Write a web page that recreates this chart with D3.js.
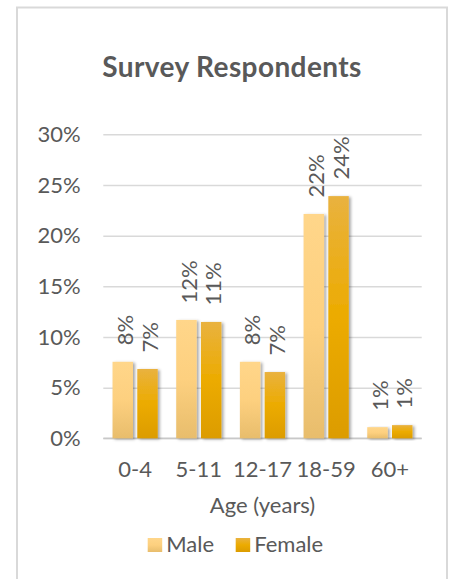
<!DOCTYPE html>
<html>
<head>
<meta charset="utf-8">
<script src="https://cdn.jsdelivr.net/npm/d3@7"></script>
<style>
  html, body { margin: 0; padding: 0; background: #fff; }
  svg text { font-family: Lato, "Open Sans", sans-serif; fill: #595959; }
</style>
</head>
<body>
<svg id="chart" width="453" height="579"></svg>
<script>
// Share of survey respondents by age group and sex
const categories = ["0-4", "5-11", "12-17", "18-59", "60+"];
const seriesNames = ["Male", "Female"];
const maleValues = [0.0755, 0.1168, 0.0755, 0.2214, 0.011];
const femaleValues = [0.0684, 0.1148, 0.0654, 0.239, 0.013];
const yTicks = [0, 0.05, 0.10, 0.15, 0.20, 0.25, 0.30];

const rows = categories.map((c, i) => ({
  category: c,
  values: [
    { series: "Male", value: maleValues[i] },
    { series: "Female", value: femaleValues[i] }
  ]
}));

const svg = d3.select("#chart");
const plot = { left: 103.3, right: 421.7, top: 134.3, bottom: 438.3 };
const fontSize = 22;

// Outer chart frame
svg.append("rect")
  .attr("x", 17).attr("y", 7.5)
  .attr("width", 430).attr("height", 600)
  .attr("fill", "#fff")
  .attr("stroke", "#d9d9d9").attr("stroke-width", 2);

// Gradients and bar shadow
const defs = svg.append("defs");
const gradStops = {
  Male: [["0%", "#ffd68a"], ["50%", "#fdd07f"], ["100%", "#e8bd6c"]],
  Female: [["0%", "#e9b23f"], ["50%", "#ecab00"], ["100%", "#dc9c00"]]
};
seriesNames.forEach(name => {
  const g = defs.append("linearGradient")
    .attr("id", "grad-" + name)
    .attr("x1", 0).attr("y1", 0).attr("x2", 0).attr("y2", 1);
  gradStops[name].forEach(([o, c]) => g.append("stop").attr("offset", o).attr("stop-color", c));
});
const shadow = defs.append("filter").attr("id", "shadow")
  .attr("x", "-30%").attr("y", "-10%").attr("width", "170%").attr("height", "130%");
shadow.append("feDropShadow")
  .attr("dx", 2).attr("dy", 1).attr("stdDeviation", 1.6)
  .attr("flood-color", "#000").attr("flood-opacity", 0.35);

// Scales
const x0 = d3.scaleBand()
  .domain(categories)
  .range([plot.left, plot.right])
  .paddingInner(0.29)
  .paddingOuter(0.145);
const x1 = d3.scaleBand()
  .domain(seriesNames)
  .range([0, x0.bandwidth()])
  .paddingInner(0.173);
const y = d3.scaleLinear()
  .domain([0, 0.30])
  .range([plot.bottom, plot.top]);
const color = d3.scaleOrdinal().domain(seriesNames).range(seriesNames.map(n => "url(#grad-" + n + ")"));

// Title
svg.append("text")
  .attr("x", 232).attr("y", 77)
  .attr("text-anchor", "middle")
  .style("font-size", "28px").style("font-weight", "bold")
  .style("letter-spacing", "0.4px")
  .text("Survey Respondents");

// Y axis with gridlines
const yAxis = svg.append("g")
  .attr("transform", `translate(${plot.left},0)`)
  .call(d3.axisLeft(y)
    .tickValues(yTicks)
    .tickFormat(d3.format(".0%"))
    .tickSizeInner(-(plot.right - plot.left))
    .tickSizeOuter(0)
    .tickPadding(22.6));
yAxis.select(".domain").remove();
yAxis.selectAll(".tick line").attr("stroke", "#d9d9d9").attr("stroke-width", 1.5);
yAxis.selectAll(".tick text").style("font-size", fontSize + "px").attr("fill", "#595959");

// Baseline
svg.append("line")
  .attr("x1", plot.left).attr("x2", plot.right)
  .attr("y1", y(0)).attr("y2", y(0))
  .attr("stroke", "#c8c8c8").attr("stroke-width", 1.5);

// Bars
const groups = svg.append("g").selectAll("g")
  .data(rows).join("g")
  .attr("transform", d => `translate(${x0(d.category)},0)`);

groups.selectAll("rect")
  .data(d => d.values).join("rect")
  .attr("x", d => x1(d.series))
  .attr("width", x1.bandwidth())
  .attr("y", d => y(d.value))
  .attr("height", d => y(0) - y(d.value))
  .attr("fill", d => color(d.series))
  .attr("filter", "url(#shadow)");

// Rotated value labels above bars
groups.selectAll("text.value")
  .data(d => d.values).join("text")
  .attr("class", "value")
  .attr("transform", d => `translate(${x1(d.series) + x1.bandwidth() / 2 + 2.5},${y(d.value) - 16.5}) rotate(-90)`)
  .attr("dy", "0.35em")
  .attr("text-anchor", "start")
  .style("font-size", fontSize + "px")
  .text(d => d3.format(".0%")(d.value));

// X axis labels
const xAxis = svg.append("g")
  .attr("transform", `translate(0,${plot.bottom})`)
  .call(d3.axisBottom(x0).tickSize(0).tickPadding(23.1));
xAxis.select(".domain").remove();
xAxis.selectAll(".tick text").style("font-size", fontSize + "px").attr("fill", "#595959");

// X axis title
svg.append("text")
  .attr("x", (plot.left + plot.right) / 2).attr("y", 513)
  .attr("text-anchor", "middle")
  .style("font-size", fontSize + "px")
  .text("Age (years)");

// Legend
const legendX = [147.7, 235.7];
const legend = svg.append("g").selectAll("g")
  .data(seriesNames).join("g")
  .attr("transform", (d, i) => `translate(${legendX[i]},538)`);
legend.append("rect")
  .attr("width", 14.5).attr("height", 14)
  .attr("fill", d => color(d));
legend.append("text")
  .attr("x", 18.5).attr("y", 14)
  .style("font-size", fontSize + "px")
  .text(d => d);
</script>
</body>
</html>
